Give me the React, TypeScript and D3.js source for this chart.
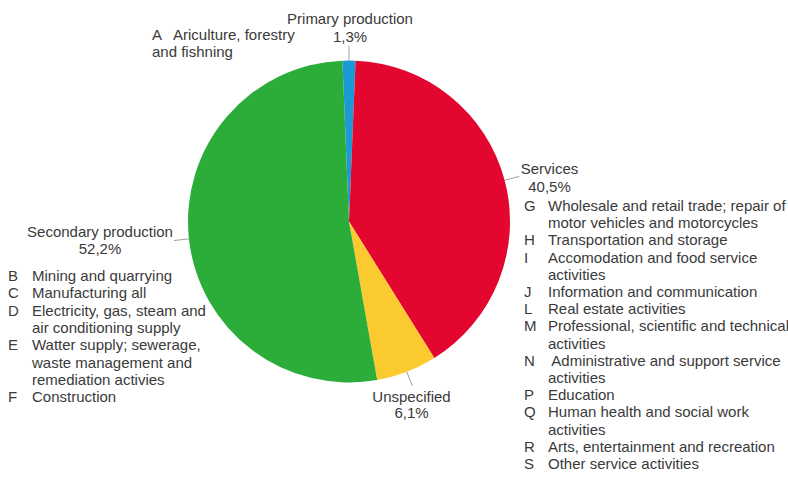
import React from "react";
import * as d3 from "d3";

const sectors = ["Primary production", "Services", "Unspecified", "Secondary production"];
const shares = [1.3, 40.5, 6.1, 52.2];
const colors = ["#1b9ad6", "#e3062f", "#fbca2e", "#2cad39"];

const primaryItems: [string, string][] = [["A", "Ariculture, forestry"]];
const primaryWrap = ["and fishning"];

const secondaryItems: [string, string[]][] = [
  ["B", ["Mining and quarrying"]],
  ["C", ["Manufacturing all"]],
  ["D", ["Electricity, gas, steam and", "air conditioning supply"]],
  ["E", ["Watter supply; sewerage,", "waste management and", "remediation activies"]],
  ["F", ["Construction"]],
];

const serviceItems: [string, string[]][] = [
  ["G", ["Wholesale and retail trade; repair of", "motor vehicles and motorcycles"]],
  ["H", ["Transportation and storage"]],
  ["I", ["Accomodation and food service", "activities"]],
  ["J", ["Information and communication"]],
  ["L", ["Real estate activities"]],
  ["M", ["Professional, scientific and technical", "activities"]],
  ["N", [" Administrative and support service", "activities"]],
  ["P", ["Education"]],
  ["Q", ["Human health and social work", "activities"]],
  ["R", ["Arts, entertainment and recreation"]],
  ["S", ["Other service activities"]],
];

const W = 788;
const H = 479;
const cx = 349;
const cy = 221.5;
const R = 161;
const FONT = "'Liberation Sans', Arial, Helvetica, sans-serif";
const TEXT = "#3a3a3a";
const FS = 15;

const fmtPct = (v: number) => v.toFixed(1).replace(".", ",") + "%";

function ItemList({ items, x0, x1, y0, step }: { items: [string, string[]][]; x0: number; x1: number; y0: number; step: number }) {
  const rows: JSX.Element[] = [];
  let line = 0;
  items.forEach(([code, lines], i) => {
    rows.push(
      <text key={`c${i}`} x={x0} y={y0 + line * step}>{code}</text>
    );
    lines.forEach((l, j) => {
      rows.push(
        <text key={`t${i}-${j}`} x={x1} y={y0 + (line + j) * step} style={{ whiteSpace: "pre" }}>{l}</text>
      );
    });
    line += lines.length;
  });
  return <g>{rows}</g>;
}

export default function App() {
  const total = d3.sum(shares);
  const offset = (shares[0] / total) * Math.PI;
  const pie = d3
    .pie<number>()
    .sort(null)
    .startAngle(-offset)
    .endAngle(2 * Math.PI - offset);
  const arcs = pie(shares);
  const arcGen = d3.arc<d3.PieArcDatum<number>>().innerRadius(0).outerRadius(R);
  const leader = (a: d3.PieArcDatum<number>) => {
    const m = (a.startAngle + a.endAngle) / 2;
    return {
      x1: Math.sin(m) * R,
      y1: -Math.cos(m) * R,
      x2: Math.sin(m) * (R + 15),
      y2: -Math.cos(m) * (R + 15),
    };
  };

  return (
    <svg width={W} height={H} style={{ position: "absolute", left: 0, top: 0, background: "#fff" }}>
      <rect width={W} height={H} fill="#fff" />
      <g transform={`translate(${cx},${cy})`}>
        {arcs.map((a, i) => (
          <path key={i} d={arcGen(a) || ""} fill={colors[i]} />
        ))}
        {arcs.map((a, i) => {
          const l = leader(a);
          return <line key={`l${i}`} {...l} stroke="#a0a0a0" strokeWidth={1} />;
        })}
      </g>
      <g fontFamily={FONT} fontSize={FS} fill={TEXT}>
        {/* Primary production */}
        <text x={350} y={24} textAnchor="middle">{sectors[0]}</text>
        <text x={350} y={41.5} textAnchor="middle">{fmtPct(shares[0])}</text>
        <text x={152} y={40}>{primaryItems[0][0]}</text>
        <text x={173} y={40}>{primaryItems[0][1]}</text>
        <text x={152} y={57}>{primaryWrap[0]}</text>

        {/* Services */}
        <text x={549.5} y={174} textAnchor="middle">{sectors[1]}</text>
        <text x={549.5} y={191.5} textAnchor="middle">{fmtPct(shares[1])}</text>
        <ItemList items={serviceItems} x0={524} x1={548} y0={211} step={17.2} />

        {/* Unspecified */}
        <text x={411.5} y={401.5} textAnchor="middle">{sectors[2]}</text>
        <text x={411.5} y={418} textAnchor="middle">{fmtPct(shares[2])}</text>

        {/* Secondary production */}
        <text x={100} y={236.5} textAnchor="middle">{sectors[3]}</text>
        <text x={100} y={253.5} textAnchor="middle">{fmtPct(shares[3])}</text>
        <ItemList items={secondaryItems} x0={8} x1={32} y0={281} step={17.3} />
      </g>
    </svg>
  );
}
